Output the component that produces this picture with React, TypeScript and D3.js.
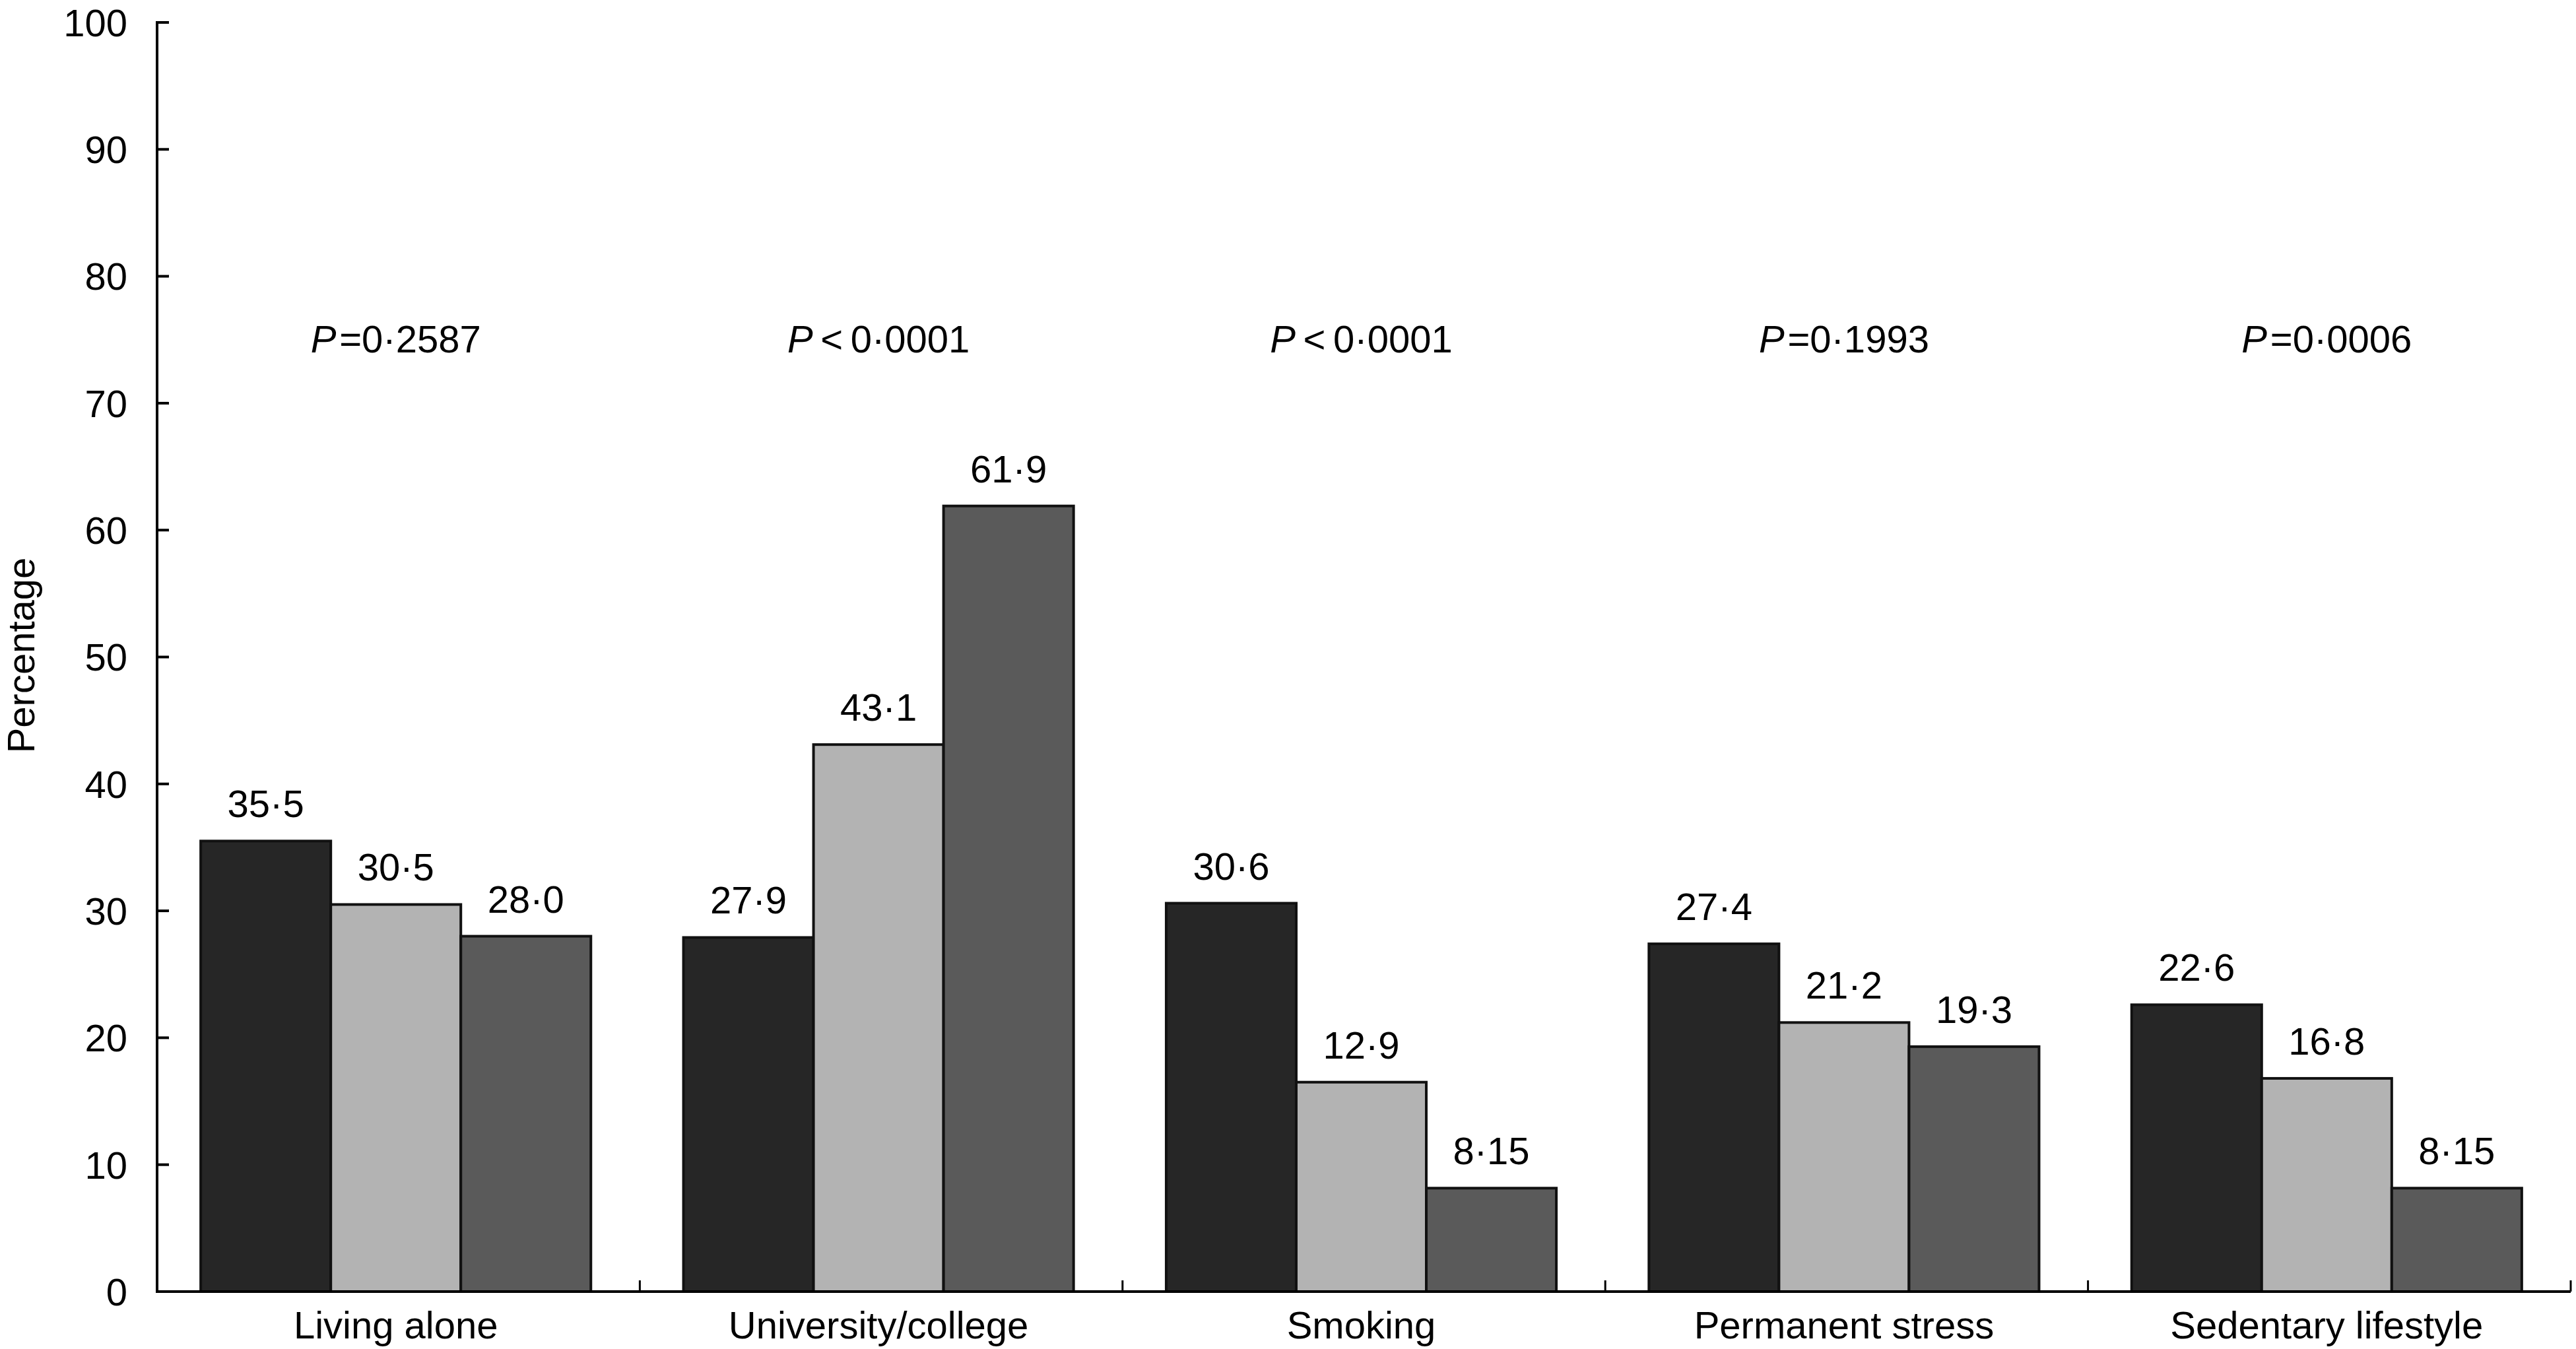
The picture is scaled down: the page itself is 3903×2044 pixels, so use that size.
import React from 'react';
import * as d3 from 'd3';

const categories = ['Living alone', 'University/college', 'Smoking', 'Permanent stress', 'Sedentary lifestyle'];
// bar heights as drawn in the figure (three groups per category)
const series1 = [35.5, 27.9, 30.6, 27.4, 22.6];
const series2 = [30.5, 43.1, 16.5, 21.2, 16.8];
const series3 = [28.0, 61.9, 8.15, 19.3, 8.15];
// printed value labels
const labels1 = ['35·5', '27·9', '30·6', '27·4', '22·6'];
const labels2 = ['30·5', '43·1', '12·9', '21·2', '16·8'];
const labels3 = ['28·0', '61·9', '8·15', '19·3', '8·15'];
const pOps = ['=', '<', '<', '=', '='];
const pValues = ['0·2587', '0·0001', '0·0001', '0·1993', '0·0006'];
const yTicks = [0, 10, 20, 30, 40, 50, 60, 70, 80, 90, 100];
const seriesColors = ['#262626', '#b3b3b3', '#5a5a5a'];

const W = 3903;
const H = 2044;
const FONT = 'Liberation Sans, Arial, Helvetica, sans-serif';
const FS = 58;

export default function App() {
  const axisX = 238;
  const axisRight = 3895;
  const y = d3.scaleLinear().domain([0, 100]).range([1957, 34]);
  const x0 = d3.scaleBand<string>().domain(categories).range([axisX, axisRight]).padding(0);
  const bw = x0.bandwidth();
  const x1 = d3.scaleBand<number>().domain([0, 1, 2]).range([-4, bw - 4]).paddingInner(0).paddingOuter(0.356);
  const allSeries = [series1, series2, series3];
  const allLabels = [labels1, labels2, labels3];
  const y0 = y(0);
  const boundaries = categories.map((c) => (x0(c) as number) + bw);

  return (
    <svg width={W} height={H} style={{ position: 'absolute', left: 0, top: 0, background: '#fff' }}
      fontFamily={FONT}>
      <rect x={0} y={0} width={W} height={H} fill="#fff" />
      {/* bars */}
      {categories.map((c, ci) => (
        <g key={c}>
          {allSeries.map((s, si) => {
            const bx = (x0(c) as number) + (x1(si) as number);
            const v = s[ci];
            return (
              <g key={si}>
                <rect x={bx} y={y(v)} width={x1.bandwidth()} height={y0 - y(v)}
                  fill={seriesColors[si]} stroke="#111" strokeWidth={4} />
                <text x={bx + x1.bandwidth() / 2} y={y(v) - 36} textAnchor="middle" fontSize={FS} fill="#000">
                  {allLabels[si][ci]}
                </text>
              </g>
            );
          })}
          <text x={(x0(c) as number) + bw / 2 - 4} y={534} textAnchor="middle" fontSize={FS} fill="#000">
            <tspan fontStyle="italic">P</tspan>
            <tspan>{pOps[ci] === '=' ? '\u200A=' : '\u2009<\u2009'}{pValues[ci]}</tspan>
          </text>
          <text x={(x0(c) as number) + bw / 2 - 4} y={2028} textAnchor="middle" fontSize={FS} fill="#000">
            {c}
          </text>
        </g>
      ))}
      {/* y axis */}
      <line x1={axisX} x2={axisX} y1={y(100) - 2} y2={y0 + 2} stroke="#000" strokeWidth={4} />
      {yTicks.map((t) => (
        <g key={t}>
          {t > 0 && <line x1={axisX} x2={axisX + 18} y1={y(t)} y2={y(t)} stroke="#000" strokeWidth={4} />}
          <text x={193} y={y(t)} dy="0.36em" textAnchor="end" fontSize={FS} fill="#000">{t}</text>
        </g>
      ))}
      {/* x axis */}
      <line x1={axisX - 2} x2={axisRight} y1={y0} y2={y0} stroke="#000" strokeWidth={4} />
      {boundaries.map((b, i) => (
        <line key={i} x1={b} x2={b} y1={y0} y2={y0 - 17} stroke="#000" strokeWidth={3} />
      ))}
      <text transform={`translate(52, 993) rotate(-90)`} textAnchor="middle" fontSize={FS} fill="#000">
        Percentage
      </text>
    </svg>
  );
}
